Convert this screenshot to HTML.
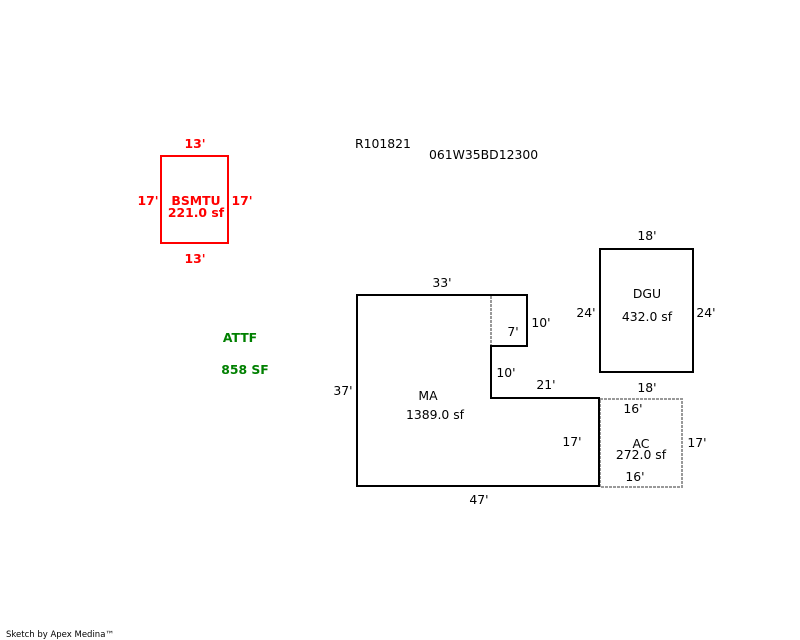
<!DOCTYPE html>
<html><head><meta charset="utf-8"><style>
html,body{margin:0;padding:0;background:#fff;}
svg{display:block;}
text{font-family:"DejaVu Sans","Liberation Sans",sans-serif;font-size:12.4px;}
</style></head><body>
<svg width="800" height="640" viewBox="0 0 800 640" xmlns="http://www.w3.org/2000/svg">
<rect x="0" y="0" width="800" height="640" fill="#fff"/>
<!-- BSMTU -->
<rect x="161" y="156" width="67" height="87" fill="none" stroke="#ff0000" stroke-width="2"/>
<g fill="#ff0000" font-weight="bold" text-anchor="middle">
<text x="195" y="148">13'</text>
<text x="148" y="205">17'</text>
<text x="242" y="205">17'</text>
<text x="196" y="205">BSMTU</text>
<text x="196" y="217">221.0 sf</text>
<text x="195" y="263">13'</text>
</g>
<!-- header -->
<text x="355" y="148">R101821</text>
<text x="429" y="159">061W35BD12300</text>
<!-- ATTF -->
<g fill="#008000" font-weight="bold" text-anchor="middle">
<text x="240" y="342">ATTF</text>
<text x="245" y="374">858 SF</text>
</g>
<!-- MA -->
<polygon points="357,295 527,295 527,346 491,346 491,398 599,398 599,486 357,486" fill="none" stroke="#000" stroke-width="2"/>
<line x1="491" y1="296" x2="491" y2="345" stroke="#999" stroke-width="2" stroke-dasharray="3,1"/>
<!-- AC -->
<rect x="600" y="399" width="82" height="88" fill="none" stroke="#999" stroke-width="2" stroke-dasharray="3,1"/>
<line x1="599" y1="398" x2="599" y2="487" stroke="#000" stroke-width="2"/>
<!-- DGU -->
<rect x="600" y="249" width="93" height="123" fill="none" stroke="#000" stroke-width="2"/>
<g text-anchor="middle" fill="#000">
<text x="442" y="287">33'</text>
<text x="541" y="327">10'</text>
<text x="513" y="336">7'</text>
<text x="506" y="377">10'</text>
<text x="546" y="389">21'</text>
<text x="343" y="395">37'</text>
<text x="428" y="400">MA</text>
<text x="435" y="419">1389.0 sf</text>
<text x="572" y="446">17'</text>
<text x="479" y="504">47'</text>
<text x="647" y="240">18'</text>
<text x="647" y="298">DGU</text>
<text x="647" y="321">432.0 sf</text>
<text x="586" y="317">24'</text>
<text x="706" y="317">24'</text>
<text x="647" y="392">18'</text>
<text x="633" y="413">16'</text>
<text x="641" y="448">AC</text>
<text x="641" y="459">272.0 sf</text>
<text x="635" y="481">16'</text>
<text x="697" y="447">17'</text>
</g>
<text x="6" y="637" style="font-size:8.5px">Sketch by Apex Medina™</text>
</svg>
</body></html>
